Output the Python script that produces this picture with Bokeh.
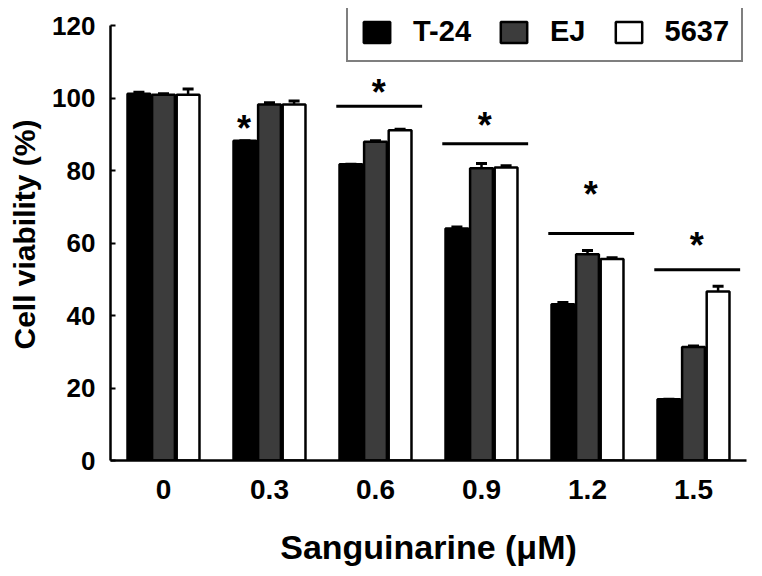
from bokeh.plotting import figure
from bokeh.models import ColumnDataSource, FactorRange, Range1d, Whisker, TeeHead, FixedTicker, Legend
from bokeh.transform import dodge
from bokeh.core.properties import value
from bokeh.embed import file_html
from bokeh.resources import INLINE

# ---- data ----
doses = ["0", "0.3", "0.6", "0.9", "1.2", "1.5"]
t24 = [101.2, 88.2, 81.7, 64.0, 43.1, 16.9]
t24_err = [0.4, 0.0, 0.0, 0.4, 0.5, 0.0]
ej = [100.9, 98.2, 87.9, 80.6, 56.9, 31.3]
ej_err = [0.3, 0.5, 0.3, 1.3, 1.0, 0.3]
c5637 = [100.9, 98.2, 91.1, 80.8, 55.6, 46.6]
c5637_err = [1.6, 1.0, 0.3, 0.5, 0.3, 1.5]

# significance bars (groups 0.6 .. 1.5) and asterisks
sig_doses = ["0.6", "0.9", "1.2", "1.5"]
sig_line_y = [97.7, 87.4, 62.6, 52.6]
star_doses = ["0.3", "0.6", "0.9", "1.2", "1.5"]
star_y = [94.1, 104.0, 94.9, 75.9, 61.7]
y_ticks = [0, 20, 40, 60, 80, 100, 120]

FONT = "Liberation Sans"

src = ColumnDataSource(dict(
    dose=doses,
    t24=t24, t24_up=[v + e for v, e in zip(t24, t24_err)],
    ej=ej, ej_up=[v + e for v, e in zip(ej, ej_err)],
    c5637=c5637, c5637_up=[v + e for v, e in zip(c5637, c5637_err)],
))

# frame extends a little above 120 so that the legend can sit at the top
FRAME_H = 452
y_end = 120 * FRAME_H / 435.0

p = figure(x_range=FactorRange(*doses, range_padding=0), y_range=Range1d(0, y_end),
           width=748, height=570, output_backend="svg", toolbar_location=None,
           min_border_left=110, min_border_right=2, min_border_top=8, min_border_bottom=110)
p.outline_line_color = None
p.xgrid.grid_line_color = None
p.ygrid.grid_line_color = None
p.background_fill_color = "white"
p.border_fill_color = "white"

W = 0.215
series = [("t24", "T-24", "black", -0.232), ("ej", "EJ", "#3c3c3c", 0.0), ("c5637", "5637", "white", 0.232)]
renderers = []
for key, label, fill, off in series:
    r = p.vbar(x=dodge("dose", off, range=p.x_range), top=key, width=W, source=src,
               fill_color=fill, line_color="black", line_width=2.5)
    renderers.append((label, [r]))
    w = Whisker(base=dodge("dose", off, range=p.x_range), upper=key + "_up", lower=key,
                source=src, line_color="black", line_width=2.5,
                upper_head=TeeHead(size=11, line_color="black", line_width=3), lower_head=None)
    p.add_layout(w)

# significance lines
sig_src = ColumnDataSource(dict(dose=sig_doses, y=sig_line_y))
p.segment(x0=dodge("dose", -0.37, range=p.x_range), x1=dodge("dose", 0.44, range=p.x_range),
          y0="y", y1="y", source=sig_src, line_color="black", line_width=3)

# asterisks
p.text(x=dodge("dose", 0.03, range=p.x_range), y="y", text=value("*"),
       source=ColumnDataSource(dict(dose=star_doses[1:], y=star_y[1:])),
       text_font=value(FONT), text_font_style="bold", text_font_size="36px",
       text_align="center", text_baseline="middle", y_offset=9, text_color="black")
p.text(x=dodge("dose", -0.24, range=p.x_range), y="y", text=value("*"),
       source=ColumnDataSource(dict(dose=star_doses[:1], y=star_y[:1])),
       text_font=value(FONT), text_font_style="bold", text_font_size="36px",
       text_align="center", text_baseline="middle", y_offset=9, text_color="black")

# axes
for ax in (p.xaxis[0], p.yaxis[0]):
    ax.axis_line_width = 2.5
    ax.axis_line_color = "black"
    ax.major_label_text_font = FONT
    ax.major_label_text_font_style = "bold"
    ax.major_label_text_color = "black"
    ax.axis_label_text_font = FONT
    ax.axis_label_text_font_style = "bold"
    ax.axis_label_text_color = "black"
    ax.minor_tick_line_color = None

p.yaxis.ticker = FixedTicker(ticks=y_ticks)
p.yaxis.bounds = (0, 120)
p.yaxis.major_tick_in = 5
p.yaxis.major_tick_out = 0
p.yaxis.major_tick_line_width = 2
p.yaxis.major_label_text_font_size = "26px"
p.yaxis.major_label_standoff = 15
p.yaxis.axis_label = "Cell viability (%)"
p.yaxis.axis_label_text_font_size = "30px"
p.yaxis.axis_label_standoff = 8

p.xaxis.major_tick_line_color = None
p.xaxis.major_tick_out = 3
p.xaxis.major_label_text_font_size = "28px"
p.xaxis.major_label_standoff = 16
p.xaxis.axis_label = "Sanguinarine (\u03bcM)"
p.xaxis.axis_label_text_font_size = "34px"
p.xaxis.axis_label_standoff = 26

legend = Legend(items=renderers, orientation="horizontal", location=(236, 398),
                border_line_color="black", border_line_width=2.5,
                background_fill_color="white", background_fill_alpha=1.0,
                label_text_font=FONT, label_text_font_style="bold", label_text_font_size="29px",
                label_text_color="black",
                glyph_width=33, glyph_height=26, label_standoff=20, spacing=26,
                padding=12, margin=0)
p.add_layout(legend, "center")

open("out.html", "w").write(file_html(p, INLINE))
